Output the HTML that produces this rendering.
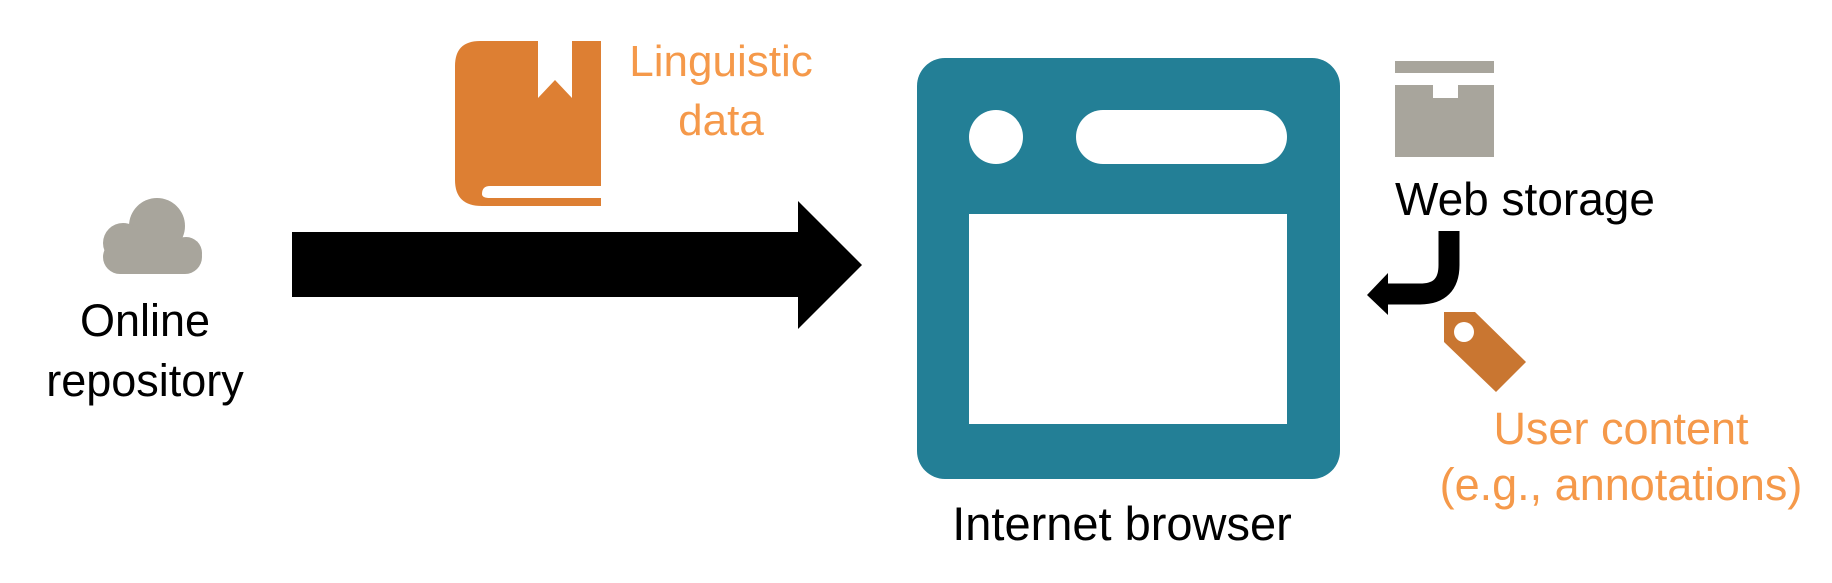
<!DOCTYPE html>
<html><head><meta charset="utf-8"><style>
html,body{margin:0;padding:0;background:#fff;}
svg{display:block;}
text{font-family:"Liberation Sans",sans-serif;font-size:45px;}
</style></head><body>
<svg width="1832" height="583" viewBox="0 0 1832 583" xmlns="http://www.w3.org/2000/svg">
<!-- cloud -->
<g fill="#a8a59c">
<circle cx="157" cy="226" r="28"/>
<circle cx="123" cy="243" r="20"/>
<circle cx="186" cy="253" r="16"/>
<rect x="103" y="240" width="99" height="34" rx="17"/>
</g>
<text x="145" y="336" text-anchor="middle">Online</text>
<text x="145" y="396" text-anchor="middle">repository</text>
<!-- big arrow -->
<polygon points="292,232 798,232 798,201 862,265 798,329 798,297 292,297" fill="#000"/>
<!-- book -->
<path d="M480,41 H538 V98 L555,80 L572,98 V41 H601 V186 H490 Q482,186 482,194 Q482,198 490,198 H601 V206 H482 Q455,206 455,180 V66 Q455,41 480,41 Z" fill="#dd7f33"/>
<text x="721" y="76" text-anchor="middle" fill="#f5994a" style="font-size:44px">Linguistic</text>
<text x="721" y="135" text-anchor="middle" fill="#f5994a" style="font-size:44px">data</text>
<!-- browser -->
<rect x="917" y="58" width="423" height="421" rx="28" fill="#237f96"/>
<circle cx="996" cy="137" r="27" fill="#fff"/>
<rect x="1076" y="110" width="211" height="54" rx="27" fill="#fff"/>
<rect x="969" y="214" width="318" height="210" fill="#fff"/>
<text x="1122" y="540" text-anchor="middle" style="font-size:47px">Internet browser</text>
<!-- storage box -->
<g fill="#a8a59c">
<rect x="1395" y="61" width="99" height="12"/>
<path d="M1395,85 H1433 V98 H1458 V85 H1494 V157 H1395 Z"/>
</g>
<text x="1395" y="215" style="font-size:46px">Web storage</text>
<!-- curved arrow -->
<path d="M1449,231 V265 Q1449,294 1420,294 H1385" fill="none" stroke="#000" stroke-width="21"/>
<polygon points="1367,295 1388,273 1388,315" fill="#000"/>
<!-- tag -->
<path d="M1444,312 H1475 L1526,362 L1496,392 L1444,342 Z" fill="#c97631"/>
<circle cx="1464" cy="332" r="10" fill="#fff"/>
<text x="1621" y="444" text-anchor="middle" fill="#f5994a">User content</text>
<text x="1621" y="500" text-anchor="middle" fill="#f5994a">(e.g., annotations)</text>
</svg>
</body></html>
